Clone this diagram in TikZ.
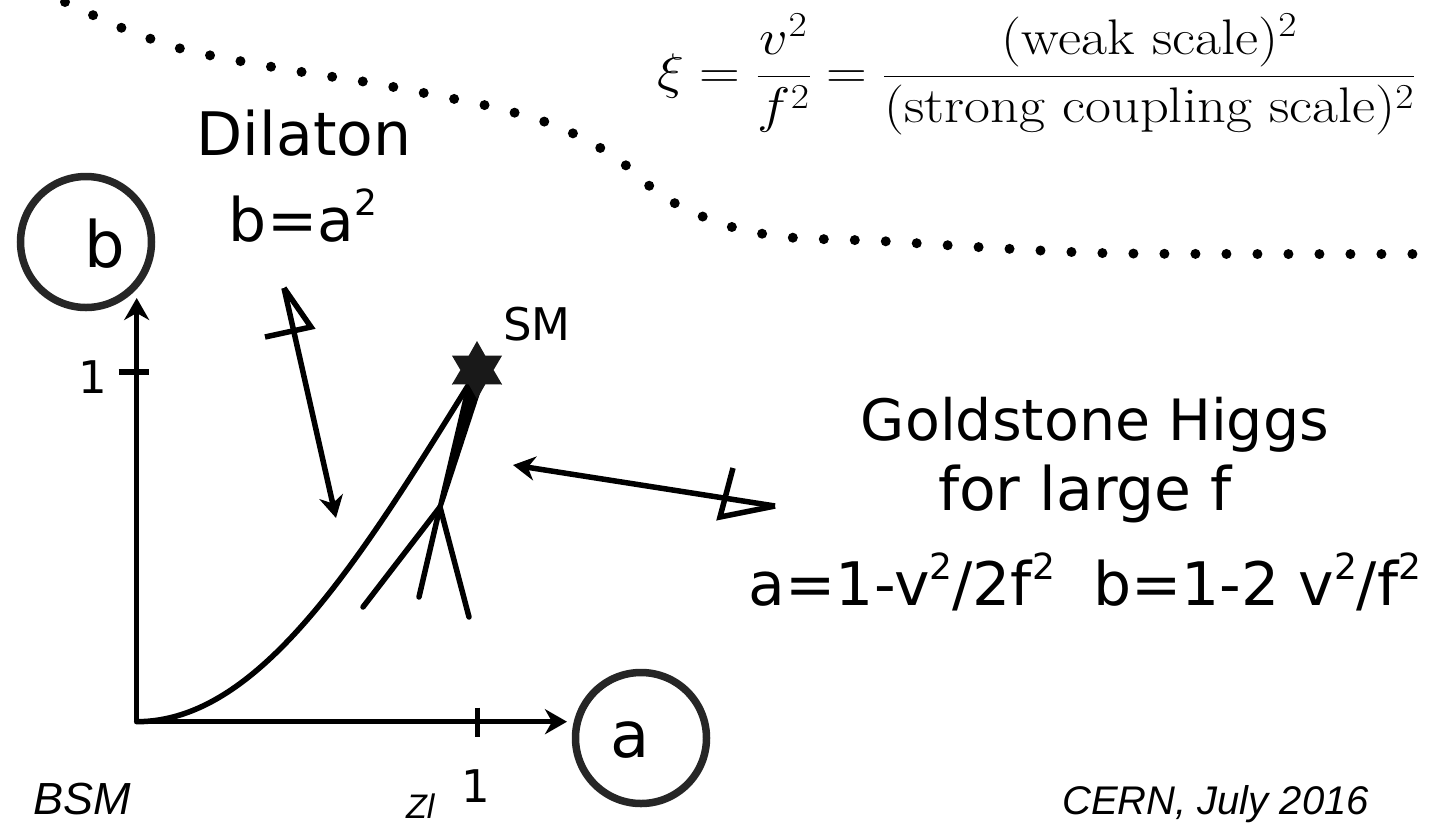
\RequirePackage{fix-cm}
\documentclass[tikz,border=0pt]{standalone}
\usepackage{amsmath}
\usepackage{graphicx}
\usepackage{fontspec}
\newfontfamily\comicfont{DejaVu Sans}
\newfontfamily\handfont{Liberation Sans}
\newcommand{\hsup}[1]{\raisebox{0.42em}{\fontsize{36}{38}\selectfont #1}}
\usepackage{tikz}
\usetikzlibrary{arrows.meta,positioning,shapes.geometric,calc}
\tikzset{
    stroke/.style={line width=5.5pt, line cap=round},
    axisline/.style={stroke, line cap=butt, -{Stealth[length=22pt,width=25pt,inset=7pt]}},
    pointer/.style={stroke, line cap=butt, -{Stealth[length=22pt,width=24pt,inset=7pt]}},
    fin/.style={stroke, line cap=butt, line join=miter},
    ring/.style={
        circle,
        draw=black!85,
        line width=7.5pt,
        minimum size=131pt,
        inner sep=0pt
    },
    bigtext/.style={font=\comicfont\fontsize{60}{70}\selectfont, inner sep=0pt, anchor=base},
    ringletter/.style={font=\comicfont\fontsize{64}{70}\selectfont, inner sep=0pt, anchor=base},
    smalltext/.style={font=\comicfont\fontsize{45}{50}\selectfont, inner sep=0pt, anchor=base},
    handtext/.style={font=\handfont\itshape\fontsize{40}{44}\selectfont, inner sep=0pt, anchor=base west},
    dotline/.style={line width=10pt, line cap=round, dash pattern=on 0pt off 31pt}
}

\begin{document}
\begin{tikzpicture}[x=1pt, y=-1pt]
    \useasboundingbox (0,0) rectangle (1430,823);

    \draw[dotline] plot[smooth] coordinates {(65,2) (122,28) (182,49) (245,62) (308,73) (372,83)
        (434,95) (497,108) (559,127) (615,157) (664,197) (722,224) (785,237) (880,241)
        (977,247) (1100,253) (1250,254) (1440,254)};

    \node[anchor=base west, inner sep=0pt, font=\fontsize{50}{60}\selectfont] (xi) at (657,88.5)
        {\scalebox{1.13}[1]{$\displaystyle \xi=\frac{v^2}{f^2}=\frac{(\mathrm{weak\ scale})^2}{(\mathrm{strong\ coupling\ scale})^2}$}};

    \coordinate (O) at (136.7,721.7);
    \coordinate (ytip) at (136.7,298);
    \coordinate (xtip) at (567,721.7);
    \coordinate (ytick) at (136.7,372);
    \coordinate (xtick) at (477.7,721.7);

    \node[ring] (bring) at (86,242) {};
    \node[ring] (aring) at (641,738) {};
    \node[ringletter] (blabel) at (105,267) {b};
    \node[ringletter] (alabel) at (630,757) {a};

    \draw[axisline] (O) -- (ytip);
    \draw[axisline] (O) -- (xtip);
    \draw[stroke, line cap=butt] ($(ytick)+(-18,0)$) -- ($(ytick)+(12,0)$);
    \draw[stroke, line cap=butt] ($(xtick)+(0,-14)$) -- ($(xtick)+(0,15)$);
    \node[smalltext] (yone) at (93,393) {1};
    \node[smalltext] (xone) at (476,802) {1};

    \coordinate (fork) at (440,507);
    \draw[stroke] (O) .. controls (260,721.7) and (360,560) .. (474,376);
    \fill (469,374) -- (485,378) -- ($(fork)+(2.5,1)$) -- ($(fork)+(-2.5,0)$) -- cycle;
    \draw[stroke] (fork) -- (363,607);
    \draw[stroke] (fork) -- (419,597);
    \draw[stroke] (fork) -- (469,617);
    \node[star, star points=6, star point ratio=1.75, fill=black!90, minimum size=58pt, inner sep=0pt] (sm) at (477,370) {};
    \node[smalltext] (smlabel) at (537,340) {SM};

    \node[bigtext] (dilaton) at (304,155) {Dilaton};
    \node[bigtext] (dilrel) at (303,241) {b=a\hsup{2}};
    \coordinate (dtail) at (284,288);
    \coordinate (dhead) at (336,518);
    \draw[pointer] (dtail) -- (dhead);
    \draw[fin] (dtail) -- (311,327) -- (265,337);

    \node[bigtext, font=\comicfont\fontsize{57}{66}\selectfont] (goldstone) at (1095,440) {Goldstone Higgs};
    \node[bigtext] (largef) at (1085,510) {for large f};
    \node[bigtext] (ghrel) at (1085,605) {a=1-v\hsup{2}/2f\hsup{2}\ \ b=1-2 v\hsup{2}/f\hsup{2}};
    \coordinate (gtail) at (775,506);
    \coordinate (ghead) at (513,465);
    \draw[pointer] (gtail) -- (ghead);
    \draw[fin] (gtail) -- (720,517) -- (733,468);

    \node[handtext, font=\handfont\itshape\fontsize{45}{48}\selectfont] (bsm) at (33,814) {BSM};
    \node[handtext, font=\handfont\itshape\fontsize{34}{36}\selectfont] (zl) at (406,818) {Zl};
    \node[handtext] (cern) at (1062,814) {CERN, July 2016};
\end{tikzpicture}
\end{document}
